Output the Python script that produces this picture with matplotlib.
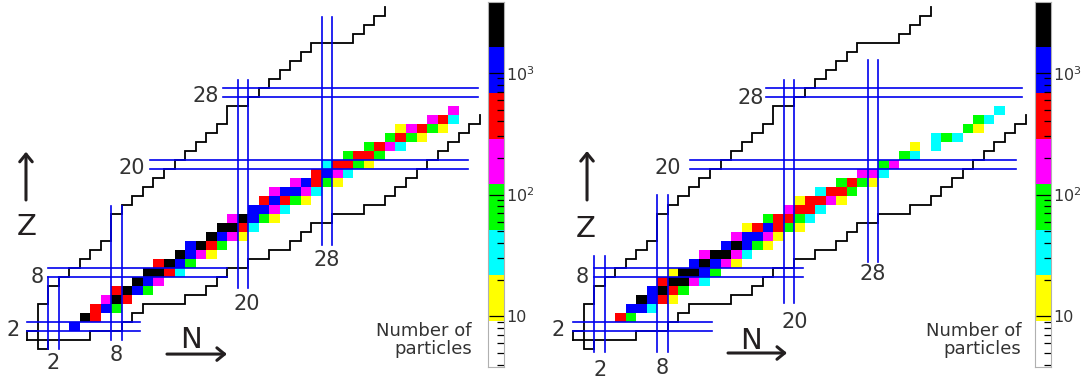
import matplotlib.pyplot as plt
import numpy as np
from matplotlib.colors import ListedColormap, BoundaryNorm
from matplotlib.ticker import FixedLocator, FixedFormatter, LogLocator, NullFormatter

plt.rcParams['font.family'] = 'DejaVu Sans'

magic = [2, 8, 20, 28]

# lightest and heaviest N of the bound nuclei, indexed by Z (0, 1, 2, ...)
drip_p_n = [1, 0, 1, 1, 1, 2, 2, 3, 4, 5, 6, 7, 8, 8, 8, 9, 10, 11, 12, 13,
            14, 15, 16, 17, 18, 19, 19, 21, 22, 23, 24, 25, 26, 27, 31, 32, 33, 34]
drip_n_n = [1, 5, 8, 9, 10, 14, 16, 17, 18, 20, 22, 24, 25, 26, 28, 31, 33, 34,
            35, 36, 37, 38, 39, 40, 41, 42]

# fragment yields: one row per Z, first N of the row, then counts along N
left_z = list(range(2, 27))
left_n0 = [4, 5, 6, 7, 8, 10, 11, 12, 14, 15, 17, 18, 19, 21, 22, 23, 25, 27,
           28, 30, 32, 34, 35, 38, 40]
left_counts = [
    [1100],
    [2500, 450],
    [450, 1100, 80],
    [190, 2500, 450],
    [450, 2500, 1100, 80],
    [2500, 1100, 190],
    [2500, 2500, 450, 35],
    [450, 2500, 1100, 80],
    [2500, 1100, 190, 15],
    [1100, 2500, 450, 80],
    [2500, 1100, 190, 15],
    [2500, 2500, 450, 35],
    [190, 2500, 1100, 80, 15],
    [1100, 1100, 190, 35],
    [450, 1100, 450, 80, 15],
    [190, 1100, 1100, 190, 35],
    [190, 1100, 450, 80, 15],
    [450, 1100, 190, 35],
    [35, 450, 450, 80, 15],
    [80, 450, 450, 80],
    [80, 450, 190, 35],
    [80, 450, 80, 15],
    [15, 190, 450, 80, 15],
    [190, 450, 35],
    [190],
]

right_z = list(range(3, 27))
right_n0 = [4, 5, 6, 7, 8, 9, 11, 12, 14, 15, 16, 18, 20, 21, 23, 25, 27, 29,
            31, 32, 34, 37, 38, 40]
right_counts = [
    [450, 80],
    [1100, 1100, 35],
    [2500, 1100, 450, 15],
    [1100, 2500, 450, 80],
    [450, 2500, 2500, 190, 35],
    [15, 2500, 2500, 1100, 80],
    [1100, 2500, 1100, 190, 15],
    [190, 2500, 2500, 190, 35],
    [1100, 2500, 1100, 80, 15],
    [190, 1100, 1100, 190, 15],
    [15, 450, 1100, 450, 80, 15],
    [80, 450, 450, 80, 35],
    [190, 450, 450, 35],
    [15, 450, 450, 190, 15],
    [35, 450, 450, 80],
    [80, 450, 80, 15],
    [190, 190, 35],
    [80, 190],
    [80, 35],
    [15, None, 35],
    [35, 80, 35],
    [80, 15],
    [80, 35],
    [35],
]

bin_colors = ['#ffffff', '#ffff00', '#00ffff', '#00ff00', '#ff00ff',
              '#ff0000', '#0000ff', '#000000']
bin_edges = 10 ** (0.585 + 0.375 * np.arange(9))

cmap = ListedColormap(bin_colors)
norm = BoundaryNorm(bin_edges, cmap.N)

W, H = 1083, 380
N_LIM = (-3.09, 42.63)
Z_LIM = (-3.94, 38.28)
TEXT = '#333333'
INK = '#231f20'
BLUE = '#0000ee'


def yield_grid(z_rows, n_first, counts):
    grid = np.full((40, 45), np.nan)
    for z, n0, row in zip(z_rows, n_first, counts):
        for i, c in enumerate(row):
            if c is not None:
                grid[z, n0 + i] = c
    return grid


def drip_lines():
    upper = [(drip_p_n[1] - 0.5, 0.5)]
    for z in range(1, len(drip_p_n)):
        b = drip_p_n[z] - 0.5
        upper += [(b, z - 0.5), (b, z + 0.5)]
    lower = [(drip_p_n[1] - 0.5, 0.5)]
    for z in range(1, len(drip_n_n)):
        e = drip_n_n[z] + 0.5
        lower += [(e, z - 0.5), (e, z + 0.5)]
    # the free neutron sits alone in the Z = 0 row
    nb, ne = drip_p_n[0] - 0.5, drip_n_n[0] + 0.5
    neutron = [(nb, 1.5), (nb, -0.5), (ne, -0.5), (ne, 0.5)]
    return [np.array(p) for p in (upper, lower, neutron)]


def draw_panel(ax, grid, spec):
    ax.set_xlim(*N_LIM)
    ax.set_ylim(*Z_LIM)
    ax.axis('off')
    ax.pcolormesh(np.arange(46) - 0.5, np.arange(41) - 0.5, grid, cmap=cmap,
                  norm=norm, edgecolors='none', antialiased=False, zorder=1)
    for path in drip_lines():
        ax.plot(path[:, 0], path[:, 1], color='black', lw=1.3, zorder=2,
                solid_joinstyle='miter')
    for m in magic:
        n0, n1 = spec['hlines'][m]
        z0, z1 = spec['vlines'][m]
        for d in (-0.5, 0.5):
            ax.plot([n0, n1], [m + d, m + d], color=BLUE, lw=1.2, zorder=3)
            ax.plot([m + d, m + d], [z0, z1], color=BLUE, lw=1.2, zorder=3)
        ax.text(*spec['n_labels'][m], str(m), ha='center', va='center_baseline',
                fontsize=15, color=TEXT)
        ax.text(*spec['z_labels'][m], str(m), ha='center', va='center_baseline',
                fontsize=15, color=TEXT)
    arrow = dict(arrowstyle='->, head_length=0.55, head_width=0.45',
                 color=INK, lw=2.2, shrinkA=0, shrinkB=0)
    ax.annotate('', xy=spec['z_arrow'][1], xytext=spec['z_arrow'][0],
                arrowprops=arrow)
    ax.annotate('', xy=spec['n_arrow'][1], xytext=spec['n_arrow'][0],
                arrowprops=arrow)
    ax.text(*spec['z_text'], 'Z', ha='center', va='center_baseline',
            fontsize=21, color=INK)
    ax.text(*spec['n_text'], 'N', ha='center', va='center_baseline',
            fontsize=21, color=INK)


def draw_colorbar(cax):
    lo, hi = bin_edges[0], bin_edges[-1]
    cax.set_yscale('log')
    cax.set_ylim(lo, hi)
    cax.set_xlim(0, 1)
    for c, a, b in zip(bin_colors, bin_edges[:-1], bin_edges[1:]):
        cax.axhspan(a, b, color=c, lw=0)
    cax.set_xticks([])
    cax.yaxis.tick_right()
    cax.yaxis.set_major_locator(FixedLocator([10, 100, 1000]))
    cax.yaxis.set_major_formatter(FixedFormatter(
        ['10', r'$\mathregular{10^2}$', r'$\mathregular{10^3}$']))
    cax.yaxis.set_minor_locator(LogLocator(base=10, subs=np.arange(2, 10)))
    cax.yaxis.set_minor_formatter(NullFormatter())
    cax.tick_params(axis='y', which='major', direction='in', length=10.8,
                    width=0.9, labelsize=11.5, pad=2, labelcolor=TEXT)
    cax.tick_params(axis='y', which='minor', direction='in', length=5,
                    width=0.9)
    for s in cax.spines.values():
        s.set_color('#b0b0b0')
        s.set_linewidth(0.8)


left_spec = dict(
    hlines={2: (-0.5, 10.2), 8: (1.5, 18.5), 20: (11.2, 41.4), 28: (18.1, 42.3)},
    vlines={2: (-0.5, 7.5), 8: (0.5, 15.4), 20: (6.3, 29.4), 28: (11.1, 36.4)},
    n_labels={2: (2.0, -1.83), 8: (8.0, -0.94), 20: (20.4, 4.72), 28: (28.0, 9.61)},
    z_labels={2: (-1.81, 1.85), 8: (0.47, 7.72), 20: (9.46, 19.83), 28: (16.5, 27.89)},
    z_arrow=((-0.62, 16.06), (-0.62, 21.42)), z_text=(-0.57, 13.39),
    n_arrow=((12.78, -1.06), (18.48, -1.06)), n_text=(15.07, 0.83),
)
right_spec = dict(
    hlines={2: (-0.5, 12.7), 8: (1.5, 21.3), 20: (10.6, 41.6), 28: (17.8, 42.2)},
    vlines={2: (-0.83, 9.8), 8: (-0.83, 16.6), 20: (4.6, 29.4), 28: (9.2, 31.6)},
    n_labels={2: (2.04, -2.61), 8: (7.94, -2.39), 20: (20.6, 2.72), 28: (28.0, 8.06)},
    z_labels={2: (-1.95, 1.83), 8: (0.33, 7.72), 20: (8.5, 19.83), 28: (16.4, 27.6)},
    z_arrow=((0.81, 16.06), (0.81, 21.5)), z_text=(0.66, 13.22),
    n_arrow=((14.21, -0.94), (19.82, -0.94)), n_text=(16.4, 0.78),
)

fig = plt.figure(figsize=(W / 100, H / 100), dpi=100)

panels = [
    (0, 488.3, 472, yield_grid(left_z, left_n0, left_counts), left_spec),
    (546, 1035.3, 1021, yield_grid(right_z, right_n0, right_counts), right_spec),
]
for x0, cbar_x, label_x, grid, spec in panels:
    ax = fig.add_axes([x0 / W, 0, 481 / W, 1])
    draw_panel(ax, grid, spec)
    cax = fig.add_axes([cbar_x / W, 13.3 / H, 15.2 / W, 365 / H])
    draw_colorbar(cax)
    fig.text(label_x / W, 1 - 340 / H, 'Number of\nparticles', ha='right',
             va='center', fontsize=13, color=TEXT, linespacing=1.05)

fig.savefig('out.png', dpi=100)
